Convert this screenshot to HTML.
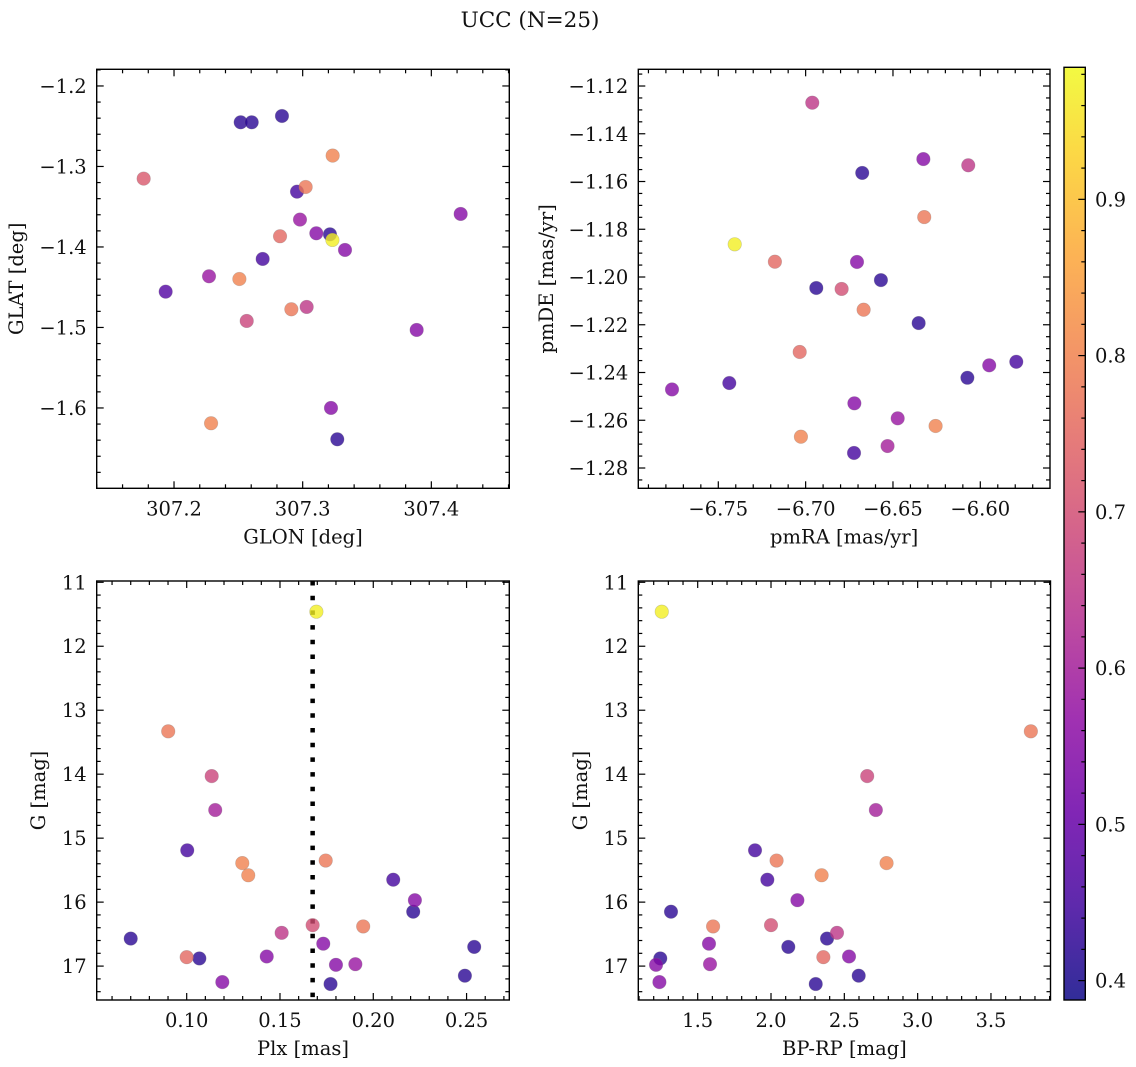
<!DOCTYPE html>
<html><head><meta charset="utf-8">
<style>
html,body{margin:0;padding:0;background:#fff;}
svg{display:block;font-family:"DejaVu Serif","Liberation Serif",serif;}
</style></head>
<body>
<svg id="fig" width="1136" height="1067" viewBox="0 0 1136 1067" xmlns="http://www.w3.org/2000/svg">
<rect width="1136" height="1067" fill="#fff"/>
<text x="530" y="27" font-size="21.5" text-anchor="middle" fill="#111">UCC (N=25)</text>
</svg>
<script>
// ---- data ----
const glon = [307.2518,307.2604,307.2839,307.1764,307.3233,307.2956,307.3023,307.2979,307.3106,307.3212,307.3231,307.2824,307.3329,307.4228,307.2689,307.1935,307.2272,307.2508,307.2565,307.2912,307.3031,307.3886,307.3220,307.2288,307.3269];
const glat = [-1.2451,-1.2451,-1.2373,-1.3151,-1.2865,-1.3313,-1.3255,-1.3660,-1.3830,-1.3843,-1.3913,-1.3867,-1.4037,-1.3590,-1.4149,-1.4555,-1.4364,-1.4398,-1.4919,-1.4774,-1.4745,-1.5031,-1.6000,-1.6190,-1.6389];
const probA = [0.42,0.42,0.42,0.72,0.80,0.45,0.78,0.58,0.55,0.42,0.97,0.75,0.55,0.55,0.45,0.47,0.58,0.80,0.68,0.78,0.65,0.55,0.55,0.80,0.42];
const pmra = [-6.6962,-6.6326,-6.6069,-6.6676,-6.6321,-6.7406,-6.7176,-6.6706,-6.6569,-6.6939,-6.6794,-6.6668,-6.6353,-6.7034,-6.5794,-6.5949,-6.6074,-6.7437,-6.7765,-6.6721,-6.6473,-6.6256,-6.7027,-6.6531,-6.6723];
const pmde = [-1.1270,-1.1506,-1.1532,-1.1564,-1.1749,-1.1863,-1.1936,-1.1937,-1.2013,-1.2046,-1.2050,-1.2137,-1.2193,-1.2314,-1.2355,-1.2370,-1.2422,-1.2444,-1.2471,-1.2529,-1.2592,-1.2624,-1.2669,-1.2708,-1.2737];
const probB = [0.65,0.55,0.65,0.42,0.78,0.97,0.75,0.55,0.42,0.42,0.70,0.78,0.42,0.75,0.45,0.55,0.42,0.45,0.55,0.55,0.58,0.80,0.80,0.60,0.45];
const gmag = [11.46,13.33,14.03,14.56,15.19,15.35,15.39,15.58,15.65,15.97,16.15,16.36,16.38,16.48,16.57,16.65,16.70,16.86,16.88,16.85,16.98,16.97,17.25,17.15,17.28];
const plx = [0.1695,0.0901,0.1134,0.1153,0.1003,0.1745,0.1298,0.1330,0.2107,0.2223,0.2214,0.1675,0.1946,0.1509,0.0700,0.1732,0.2541,0.1000,0.1068,0.1429,0.1800,0.1904,0.1191,0.2491,0.1771];
const bprp = [1.255,3.772,2.656,2.715,1.891,2.038,2.788,2.345,1.975,2.180,1.318,2.000,1.605,2.450,2.382,1.577,2.118,2.357,1.245,2.532,1.216,1.584,1.239,2.598,2.305];
const probC = [0.97,0.78,0.68,0.60,0.45,0.78,0.80,0.80,0.45,0.55,0.42,0.70,0.78,0.65,0.42,0.55,0.42,0.75,0.42,0.55,0.55,0.58,0.55,0.42,0.42];
const plxMedian = 0.1675;
const tlXTicks = [307.2,307.3,307.4];
const tlYTicks = [-1.2,-1.3,-1.4,-1.5,-1.6];
const trXTicks = [-6.75,-6.70,-6.65,-6.60];
const trYTicks = [-1.12,-1.14,-1.16,-1.18,-1.20,-1.22,-1.24,-1.26,-1.28];
const blXTicks = [0.10,0.15,0.20,0.25];
const gTicks = [11,12,13,14,15,16,17];
const brXTicks = [1.5,2.0,2.5,3.0,3.5];
const cbTicks = [0.4,0.5,0.6,0.7,0.8,0.9];

const NS = "http://www.w3.org/2000/svg";
const svg = document.getElementById('fig');
function mk(tag, attrs, parent){const e=document.createElementNS(NS,tag);for(const k in attrs)e.setAttribute(k,attrs[k]);(parent||svg).appendChild(e);return e;}

const stops=[[0,[13,8,135]],[0.1,[65,4,157]],[0.2,[106,0,168]],[0.3,[143,13,164]],[0.4,[177,42,144]],[0.5,[204,71,120]],[0.6,[225,100,98]],[0.7,[242,132,75]],[0.8,[252,166,54]],[0.9,[252,206,37]],[1,[240,249,33]]];
const cmin=0.3876,cmax=0.9845;
function cmap(t){t=Math.max(0,Math.min(1,t));for(let i=1;i<stops.length;i++){if(t<=stops[i][0]){const a=stops[i-1],b=stops[i];const f=(t-a[0])/(b[0]-a[0]);const c=a[1].map((v,j)=>Math.round(v+(b[1][j]-v)*f));return `rgb(${c[0]},${c[1]},${c[2]})`;}}return 'rgb(240,249,33)';}
function colorOf(v){return cmap((v-cmin)/(cmax-cmin));}
function fmtMinus(s){return s.replace('-','\u2212');}
const FS=19.5;

function panel(o){
  const g=mk('g',{});
  
  
  const sx=v=>o.L+(v-o.x0)/(o.x1-o.x0)*(o.R-o.L);
  const sy=v=>o.B-(v-o.y0)/(o.y1-o.y0)*(o.B-o.T);
  o.sx=sx;o.sy=sy;
  const tk=mk('g',{stroke:'#000','stroke-width':1.2},g);
  
  
  const lo=Math.min(o.x0,o.x1),hi=Math.max(o.x0,o.x1);
  for(let k=Math.ceil(lo/o.xmin-1e-6);k*o.xmin<=hi+1e-9;k++){const v=k*o.xmin;const x=sx(v);if(x<o.L-0.5||x>o.R+0.5)continue;
    const major=Math.abs(v/o.xmaj-Math.round(v/o.xmaj))<1e-4;const len=major?7:4;
    mk('line',{x1:x,x2:x,y1:o.B,y2:o.B-len},tk);mk('line',{x1:x,x2:x,y1:o.T,y2:o.T+len},tk);}
  const ylo=Math.min(o.y0,o.y1),yhi=Math.max(o.y0,o.y1);
  for(let k=Math.ceil(ylo/o.ymin-1e-6);k*o.ymin<=yhi+1e-9;k++){const v=k*o.ymin;const y=sy(v);if(y<o.T-0.5||y>o.B+0.5)continue;
    const major=Math.abs(v/o.ymaj-Math.round(v/o.ymaj))<1e-4;const len=major?7:4;
    mk('line',{x1:o.L,x2:o.L+len,y1:y,y2:y},tk);mk('line',{x1:o.R,x2:o.R-len,y1:y,y2:y},tk);}
  o.xt.forEach(v=>{const t=mk('text',{x:sx(v),y:o.B+27,'font-size':FS,'text-anchor':'middle',fill:'#111'},g);t.textContent=fmtMinus(v.toFixed(o.xd));
    
    });
  o.yt.forEach(v=>{const t=mk('text',{x:o.L-10,y:sy(v)+7,'font-size':FS,'text-anchor':'end',fill:'#111'},g);t.textContent=fmtMinus(v.toFixed(o.yd));
    
    });
  const xl=mk('text',{x:(o.L+o.R)/2,y:o.B+55,'font-size':FS,'text-anchor':'middle',fill:'#111'},g);xl.textContent=o.xlabel;
  
  
  const yx=o.ylx,yy=(o.T+o.B)/2;
  const yl=mk('text',{x:yx,y:yy,'font-size':FS,'text-anchor':'middle',fill:'#111',transform:`rotate(-90 ${yx} ${yy})`},g);yl.textContent=o.ylabel;
  
  
  o.g=g;
  return o;
}
function frame(o){const r=mk('rect',{x:o.L,y:o.T,width:o.R-o.L,height:o.B-o.T,fill:'none',stroke:'#000','stroke-width':1.4},o.g);
  
  }
function scatter(o,xs,ys,cs){
  const order=xs.map((_,i)=>i).sort((a,b)=>cs[a]-cs[b]);
  order.forEach(i=>{const c=mk('circle',{cx:o.sx(xs[i]),cy:o.sy(ys[i]),r:6.8,fill:colorOf(cs[i]),'fill-opacity':0.8,stroke:'#777','stroke-opacity':0.35,'stroke-width':0.6},o.g);
    
    });
}

const tl=panel({name:'glon-glat-panel',L:96.7,R:509.3,T:69.3,B:488.3,x0:307.1399,x1:307.4606,y0:-1.6998,y1:-1.1793,xmaj:0.1,xmin:0.02,ymaj:0.1,ymin:0.02,xt:tlXTicks,yt:tlYTicks,xd:1,yd:1,xlabel:'GLON [deg]',ylabel:'GLAT [deg]',ylx:23});
scatter(tl,glon,glat,probA);frame(tl);
const tr=panel({name:'pm-panel',L:638.3,R:1050,T:69.3,B:488.3,x0:-6.7958,x1:-6.5601,y0:-1.2885,y1:-1.1130,xmaj:0.05,xmin:0.01,ymaj:0.02,ymin:0.005,xt:trXTicks,yt:trYTicks,xd:2,yd:2,xlabel:'pmRA [mas/yr]',ylabel:'pmDE [mas/yr]',ylx:553});
scatter(tr,pmra,pmde,probB);frame(tr);
const bl=panel({name:'plx-g-panel',L:96.7,R:509.3,T:581,B:1000,x0:0.05177,x1:0.2729,y0:17.53,y1:10.98,xmaj:0.05,xmin:0.01,ymaj:1,ymin:0.2,xt:blXTicks,yt:gTicks,xd:2,yd:0,xlabel:'Plx [mas]',ylabel:'G [mag]',ylx:45});
const ml=mk('line',{x1:bl.sx(plxMedian),x2:bl.sx(plxMedian),y1:581,y2:1000,stroke:'#000','stroke-width':4.5,'stroke-dasharray':'4.5 10.2'},bl.g);


scatter(bl,plx,gmag,probC);frame(bl);
const br=panel({name:'cmd-panel',L:638.3,R:1050.5,T:581,B:1000,x0:1.095,x1:3.906,y0:17.53,y1:10.98,xmaj:0.5,xmin:0.1,ymaj:1,ymin:0.2,xt:brXTicks,yt:gTicks,xd:1,yd:0,xlabel:'BP-RP [mag]',ylabel:'G [mag]',ylx:587});
scatter(br,bprp,gmag,probC);frame(br);

const cb=mk('g',{});


const cbL=1064,cbR=1085.3,cbT=67.3,cbB=1000;
const defs=mk('defs',{});const lg=mk('linearGradient',{id:'cbg',x1:0,y1:1,x2:0,y2:0},defs);
for(let i=0;i<=20;i++){mk('stop',{offset:i/20,'stop-color':cmap(i/20),'stop-opacity':0.85},lg);}
mk('rect',{x:cbL,y:cbT,width:cbR-cbL,height:cbB-cbT,fill:'url(#cbg)'},cb);
const cy=v=>cbB-(v-cmin)/(cmax-cmin)*(cbB-cbT);
for(let k=20;k<=49;k++){const v=k*0.02;const y=cy(v);if(y<cbT||y>cbB)continue;const major=(k%5===0);
  mk('line',{x1:cbR,x2:cbR-(major?7:4),y1:y,y2:y,stroke:'#000','stroke-width':1.2},cb);}
cbTicks.forEach(v=>{const t=mk('text',{x:1095,y:cy(v)+7,'font-size':FS,fill:'#111'},cb);t.textContent=v.toFixed(1);
  
  });
mk('rect',{x:cbL,y:cbT,width:cbR-cbL,height:cbB-cbT,fill:'none',stroke:'#000','stroke-width':1.4},cb);
</script>
</body></html>
